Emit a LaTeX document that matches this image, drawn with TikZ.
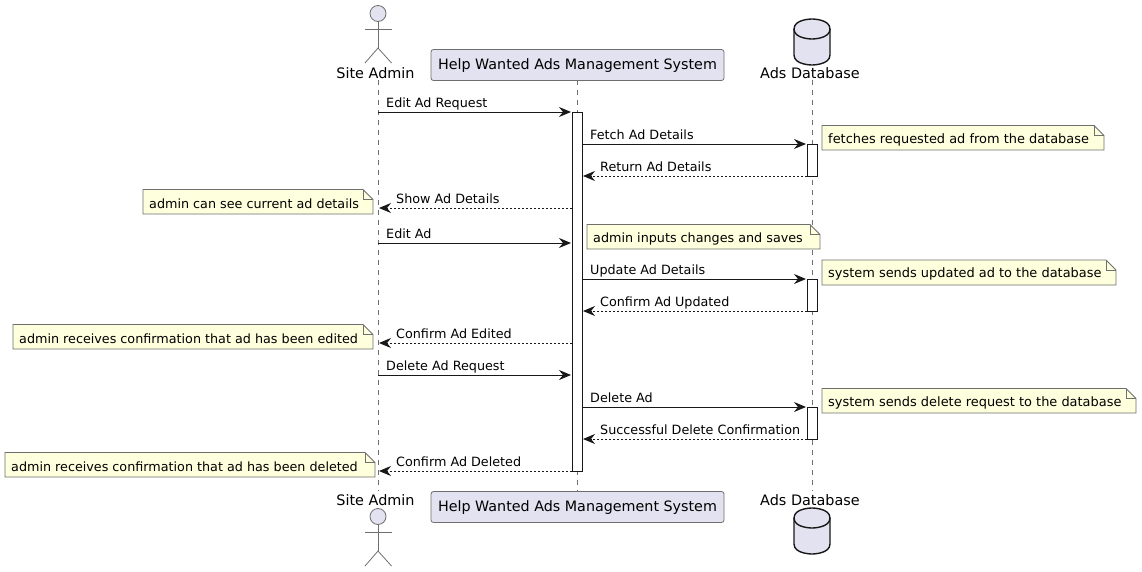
\documentclass[tikz,border=0pt]{standalone}
\usepackage{fontspec}
\setmainfont{DejaVu Sans}
\usetikzlibrary{arrows.meta}
\definecolor{partfill}{HTML}{E2E2F0}
\definecolor{notefill}{HTML}{FEFFDD}
\definecolor{inkdark}{HTML}{181818}
\definecolor{inkgrey}{HTML}{6F6F6F}
\tikzset{
	lifeline/.style={color=inkgrey, line width=0.6pt, dash pattern=on 5pt off 5pt},
	partbox/.style={draw=inkgrey, fill=partfill, line width=0.8pt, rounded corners=2.5pt, minimum width=293pt, minimum height=31pt, inner sep=0pt, text height=12pt, text depth=3pt, font=\fontsize{14.3}{16}\selectfont},
	partlabel/.style={inner sep=0pt, font=\fontsize{14.4}{16}\selectfont},
	actorline/.style={draw=inkgrey, line width=0.8pt},
	dbline/.style={draw=inkdark, line width=1.4pt, fill=partfill},
	activebar/.style={draw=inkdark, fill=white, line width=0.9pt},
	msgsolid/.style={draw=inkdark, line width=0.9pt, -{Stealth[length=12pt,width=10pt,inset=4pt]}},
	msgdash/.style={msgsolid, dash pattern=on 2pt off 2pt},
	msglabel/.style={inner sep=0pt, anchor=base west, font=\fontsize{12.75}{15}\selectfont},
	notebody/.style={draw=inkgrey, fill=notefill, line width=0.8pt},
	noteleft/.style={inner sep=0pt, anchor=west, font=\fontsize{12.75}{15}\selectfont},
	noteright/.style={noteleft, font=\fontsize{12.93}{15}\selectfont}
}
\begin{document}
\begin{tikzpicture}[x=1pt, y=-1pt]
	\useasboundingbox (0,0) rectangle (1142,572);
	% lifelines first, everything else sits on top
	\coordinate (adminTop) at (378,80);
	\coordinate (adminBot) at (378,491);
	\coordinate (systemTop) at (577,80);
	\coordinate (systemBot) at (577,491);
	\coordinate (dbTop) at (812,80);
	\coordinate (dbBot) at (812,491);
	\foreach \who in {admin,system,db} {
		\draw[lifeline] (\who Top) -- (\who Bot);
	}
	% participant boxes and captions, head and foot
	\node[partbox] (systemHead) at (577.5,65) {Help Wanted Ads Management System};
	\node[partbox] (systemFoot) at (577.5,507) {Help Wanted Ads Management System};
	\node[partlabel] (adminHead) at (375.5,73) {Site Admin};
	\node[partlabel] (adminFoot) at (375.5,500) {Site Admin};
	\node[partlabel] (dbHead) at (810,73) {Ads Database};
	\node[partlabel] (dbFoot) at (810,500) {Ads Database};
	% stick figures
	\foreach \yo in {0,503} {
		\draw[actorline, fill=partfill] (378,13.5+\yo) circle (8);
		\draw[actorline] (378,21.5+\yo) -- (378,48+\yo);
		\draw[actorline] (365,29+\yo) -- (391.5,29+\yo);
		\draw[actorline] (365,63+\yo) -- (378,48+\yo) -- (391.5,63+\yo);
	}
	% cylinders
	\foreach \yo in {0,489} {
		\draw[dbline] (794,29+\yo) .. controls (794,19+\yo) and (812,19+\yo) .. (812,19+\yo) .. controls (812,19+\yo) and (830,19+\yo) .. (830,29+\yo) -- (830,55+\yo) .. controls (830,65+\yo) and (812,65+\yo) .. (812,65+\yo) .. controls (812,65+\yo) and (794,65+\yo) .. (794,55+\yo) -- cycle;
		\draw[dbline, fill=none] (794,29+\yo) .. controls (794,39+\yo) and (812,39+\yo) .. (812,39+\yo) .. controls (812,39+\yo) and (830,39+\yo) .. (830,29+\yo);
	}
	% activation bars
	\draw[activebar] (572,112) rectangle (582,471);
	\foreach \ya/\yb in {144/176,279/311,407/439} {
		\draw[activebar] (807,\ya) rectangle (817,\yb);
	}
	% messages: start x, end x, y, label x, style, label
	\foreach \n/\xa/\xb/\yy/\xl/\sty/\txt in {
		1/378/571/112/386/msgsolid/Edit Ad Request,
		2/583/806/144/590/msgsolid/Fetch Ad Details,
		3/807/583/176/600/msgdash/Return Ad Details,
		4/572/379/208/396/msgdash/Show Ad Details,
		5/378/571/243/386/msgsolid/Edit Ad,
		6/583/806/279/590/msgsolid/Update Ad Details,
		7/807/583/311/600/msgdash/Confirm Ad Updated,
		8/572/379/343/396/msgdash/Confirm Ad Edited,
		9/378/571/375/386/msgsolid/Delete Ad Request,
		10/583/806/407/590/msgsolid/Delete Ad,
		11/807/583/439/600/msgdash/Successful Delete Confirmation,
		12/572/379/471/396/msgdash/Confirm Ad Deleted} {
		\coordinate (from\n) at (\xa,\yy);
		\coordinate (to\n) at (\xb,\yy);
		\draw[\sty] (from\n) -- (to\n);
		\node[msglabel] (msg\n) at (\xl,\yy-4.5) {\txt};
	}
	% notes: left, right, top, bottom, style, text
	\foreach \n/\xa/\xb/\ya/\yb/\sty/\txt in {
		1/822/1104/125.5/150/noteright/fetches requested ad from the database,
		2/143/373/189.5/214/noteleft/admin can see current ad details,
		3/587/820/224.5/249/noteleft/admin inputs changes and saves,
		4/822/1116/260/285/noteright/system sends updated ad to the database,
		5/13/373/324.5/349/noteleft/admin receives confirmation that ad has been edited,
		6/822/1136/388.5/413/noteright/system sends delete request to the database,
		7/5/375/452.5/477/noteleft/admin receives confirmation that ad has been deleted} {
		\draw[notebody] (\xa,\ya) -- (\xb-10,\ya) -- (\xb,\ya+10) -- (\xb,\yb) -- (\xa,\yb) -- cycle;
		\draw[notebody, fill=none] (\xb-10,\ya) -- (\xb-10,\ya+10) -- (\xb,\ya+10);
		\node[\sty] (note\n) at (\xa+6,\ya+14) {\txt};
	}
\end{tikzpicture}
\end{document}
